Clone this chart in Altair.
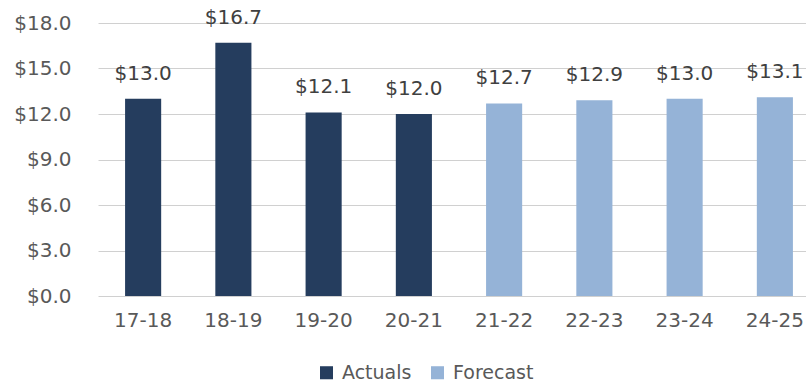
import altair as alt
import pandas as pd

years = ["17-18", "18-19", "19-20", "20-21", "21-22", "22-23", "23-24", "24-25"]
values = [13.0, 16.7, 12.1, 12.0, 12.7, 12.9, 13.0, 13.1]
kinds = ["Actuals", "Actuals", "Actuals", "Actuals", "Forecast", "Forecast", "Forecast", "Forecast"]
y_ticks = [0, 3, 6, 9, 12, 15, 18]

df = pd.DataFrame({"year": years, "value": values, "kind": kinds})
df["label"] = df["value"].map(lambda v: f"${v:.1f}")

FONT = "DejaVu Sans"

base = alt.Chart(df)

bars = base.mark_bar().encode(
    x=alt.X("year:N", sort=years, title=None,
            scale=alt.Scale(paddingInner=0.6, paddingOuter=0.3, range=[0, 722]),
            axis=alt.Axis(labelAngle=0, labelFontSize=20, labelColor="#595959",
                          labelFont=FONT, labelPadding=14, domain=False, ticks=False)),
    y=alt.Y("value:Q", title=None,
            scale=alt.Scale(domain=[0, 18], nice=False),
            axis=alt.Axis(values=y_ticks, labelExpr="'$' + format(datum.value, '.1f')",
                          labelFontSize=20, labelColor="#595959", labelFont=FONT,
                          labelPadding=27, domain=False, ticks=False,
                          grid=True, gridColor="#d0d0d0", gridWidth=1)),
    color=alt.Color("kind:N", title=None,
                    scale=alt.Scale(domain=["Actuals", "Forecast"], range=["#253D5E", "#95B3D7"]),
                    legend=alt.Legend(orient="none", legendX=219, legendY=340, direction="horizontal",
                                      symbolType="square", symbolSize=170, symbolStrokeWidth=0,
                                      labelFontSize=19, labelFont=FONT, labelColor="#595959",
                                      columnPadding=16, labelOffset=6, padding=0)),
)

text = base.mark_text(baseline="bottom", dy=-15, fontSize=20, font=FONT, color="#404040").encode(
    x=alt.X("year:N", sort=years),
    y="value:Q",
    text="label:N",
)

chart = (bars + text).properties(
    width=708, height=273,
    autosize=alt.AutoSizeParams(type="none"),
    padding={"left": 98, "top": 23, "right": 0, "bottom": 89},
).configure(background="white").configure_view(stroke=None)

chart.save("out.html", embed_options={"renderer": "svg", "actions": False})
